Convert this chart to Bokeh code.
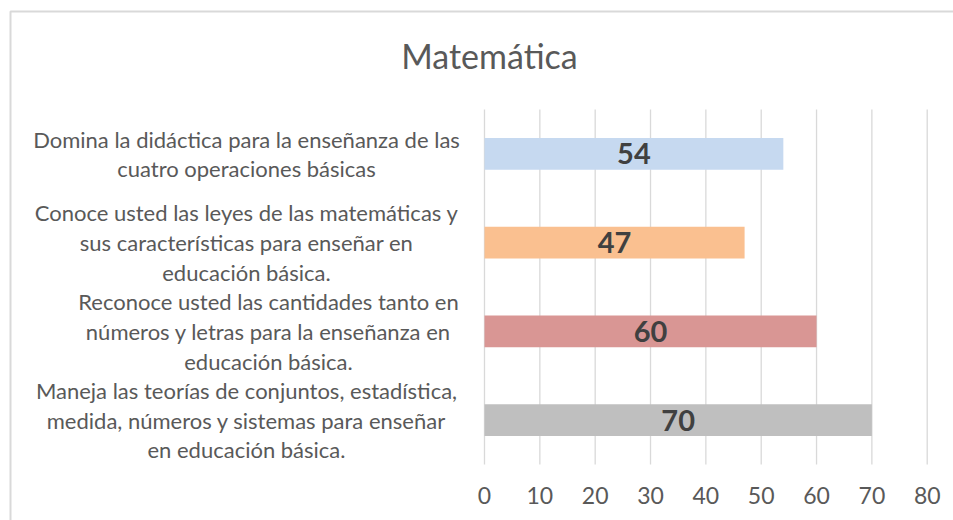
from bokeh.plotting import figure
from bokeh.models import Range1d
from bokeh.core.properties import value
from bokeh.embed import file_html
from bokeh.resources import INLINE

# ---- data ----
categories = [
    "Domina la didáctica para la enseñanza de las\ncuatro operaciones básicas",
    "Conoce usted las leyes de las matemáticas y\nsus características para enseñar en\neducación básica.",
    "Reconoce usted las cantidades tanto en\nnúmeros y letras para la enseñanza en\neducación básica.",
    "Maneja las teorías de conjuntos, estadística,\nmedida, números y sistemas para enseñar\nen educación básica.",
]
values = [54, 47, 60, 70]
bar_colors = ["#c6d9f0", "#fac090", "#d99694", "#bfbfbf"]
x_ticks = [0, 10, 20, 30, 40, 50, 60, 70, 80]
x_tick_labels = ["0", "10", "20", "30", "40", "50", "60", "70", "80"]
title_text = "Matemática"

# ---- layout (pixels) ----
W, H = 953, 520
X0_PX, PX_PER_X = 484.0, 5.534      # pixel of value 0, pixels per unit
Y0_PX, PX_PER_Y = 464.0, 88.75      # pixel of bottom of category band, pixels per band


def px_x(px):
    return (px - X0_PX) / PX_PER_X


def px_y(py):
    return (Y0_PX - py) / PX_PER_Y


n = len(categories)
ypos = [n - 1 - i + 0.5 for i in range(n)]
label_px = [246, 246, 268, 246]

FONT = value("Lato")

p = figure(width=W, height=H, output_backend="svg", toolbar_location=None,
           x_range=Range1d(px_x(0), px_x(W)), y_range=Range1d(px_y(H), px_y(0)),
           min_border=0)
p.title.visible = False
p.axis.visible = False
p.grid.visible = False
p.outline_line_color = None
p.background_fill_color = "white"
p.border_fill_color = "white"

# gridlines at tick values across the category band
p.segment(x0=x_ticks, x1=x_ticks, y0=[0] * len(x_ticks), y1=[n] * len(x_ticks),
          line_color="#d9d9d9", line_width=1.3)

# bars
p.hbar(y=ypos, right=values, left=0, height=0.355, fill_color=bar_colors,
       line_color=None)

# value labels
p.text(x=[v / 2 for v in values], y=ypos, text=[str(v) for v in values],
       text_align="center", text_baseline="middle", text_font=FONT,
       text_font_size="29px", text_font_style="bold", text_color="#404040")

# category labels
p.text(x=[px_x(v) for v in label_px], y=ypos, text=categories,
       text_align="center", text_baseline="middle", text_font=FONT,
       text_font_size="22px", text_color="#595959", text_line_height=1.1)

# x tick labels
p.text(x=x_ticks, y=[px_y(495)] * len(x_ticks), text=x_tick_labels,
       text_align="center", text_baseline="middle", text_font=FONT,
       text_font_size="23px", text_color="#595959")

# title
p.text(x=[px_x(489)], y=[px_y(55)], text=[title_text], text_align="center",
       text_baseline="middle", text_font=FONT, text_font_size="34px",
       text_color="#595959")

# chart border (left and top edges visible)
p.line(x=[px_x(10), px_x(10), px_x(W + 20)], y=[px_y(H + 20), px_y(11), px_y(11)],
       line_color="#d9d9d9", line_width=2)

open("out.html", "w").write(file_html(p, INLINE))
